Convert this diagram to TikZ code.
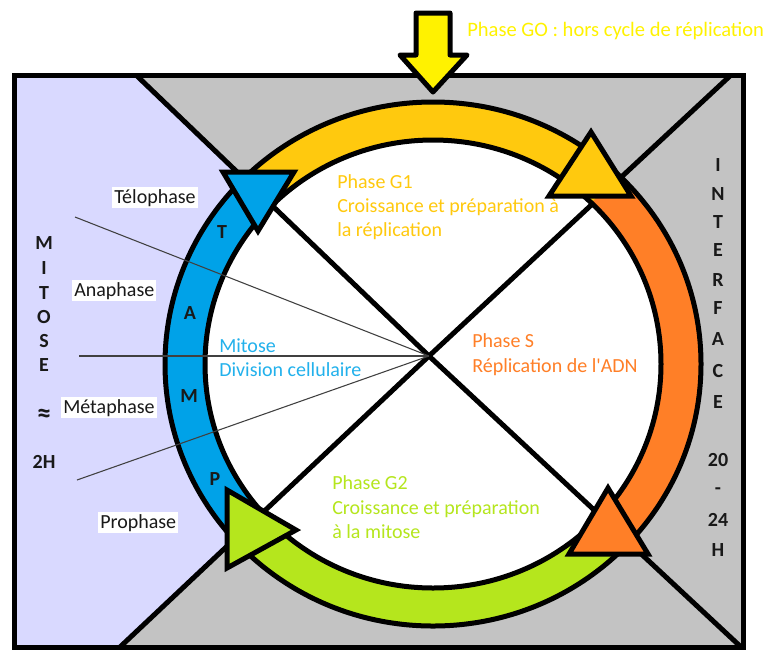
\documentclass[tikz,border=0pt]{standalone}
\usepackage{fontspec}
\setmainfont{Carlito}[Ligatures=TeXOff]
\definecolor{cgray}{HTML}{C3C3C3}
\definecolor{clav}{HTML}{D9D9FF}
\definecolor{cblu}{HTML}{00A2E8}
\definecolor{cyel}{HTML}{FFC90E}
\definecolor{corg}{HTML}{FF7F27}
\definecolor{cgrn}{HTML}{B5E61D}
\definecolor{carrow}{HTML}{FFF200}
\definecolor{cmit}{HTML}{22B1EC}
\definecolor{cthin}{HTML}{404040}
\begin{document}
\begin{tikzpicture}[x=0.75pt,y=0.75pt,
  thickline/.style={line width=3.75pt, line join=round},
  tri/.style={draw=black, line width=3.75pt, line join=miter, miter limit=3},
  thinline/.style={draw=cthin, line width=0.8pt},
  txt/.style={anchor=base west, inner sep=0pt, font=\fontsize{15}{18}\selectfont},
  lbl/.style={anchor=base west, fill=white, inner sep=1.5pt, text=black!90, font=\fontsize{15}{18}\selectfont},
  bl/.style={anchor=base, inner sep=0pt, text=black!90, font=\fontsize{15}{18}\selectfont\bfseries}]
\useasboundingbox (0,0) rectangle (767,-651);
% corners and key points
\coordinate (R1) at (14,-75);
\coordinate (R2) at (743,-647);
\coordinate (RBL) at (14,-647);
\coordinate (TL) at (136,-75);
\coordinate (TR) at (731,-75);
\coordinate (BL) at (120,-647);
\coordinate (BR) at (741,-647);
\coordinate (X) at (429,-356);
\coordinate (C) at (433,-364);
% backgrounds
\fill[cgray] (R1) rectangle (R2);
\fill[clav] (R1) -- (TL) -- (X) -- (BL) -- (RBL) -- cycle;
\fill[white] (C) ellipse [x radius=268, y radius=262];
% X lines
\draw[thickline] (TL) -- (X) -- (BR);
\draw[thickline] (TR) -- (X) -- (BL);
% ring segments
\begin{scope}[shift={(433,-364)}]
\foreach \a/\b/\c in {134/46/cyel, 46/-45/corg, -45/-138/cgrn, 222/134/cblu}{
  \fill[\c] (\a:268 and 262) arc[start angle=\a, end angle=\b, x radius=268, y radius=262]
    -- (\b:228 and 224) arc[start angle=\b, end angle=\a, x radius=228, y radius=224] -- cycle;
}
\end{scope}
\draw[thickline] (C) ellipse [x radius=268, y radius=262];
\draw[thickline] (C) ellipse [x radius=228, y radius=224];
% thin mitosis lines
\coordinate (L1) at (75,-217);
\coordinate (L2) at (79,-356);
\coordinate (L3) at (77,-480);
\draw[thinline] (L1) -- (X);
\draw[thinline] (L2) -- (X);
\draw[thinline] (L3) -- (X);
% ring letters
\node[bl] (lT) at (222,-238) {T};
\node[bl] (lA) at (190,-319) {A};
\node[bl] (lM) at (189,-402) {M};
\node[bl] (lP) at (215,-485) {P};
% left labels
\node[lbl] (telo) at (112,-203) {Télophase};
\node[lbl] (ana) at (72,-296) {Anaphase};
\node[lbl] (meta) at (61,-413) {Métaphase};
\node[lbl] (pro) at (98,-528) {Prophase};
% MITOSE
\node[bl] (m1) at (44,-249) {M};
\node[bl] (m2) at (44,-274) {I};
\node[bl] (m3) at (44,-299) {T};
\node[bl] (m4) at (44,-323) {O};
\node[bl] (m5) at (44,-347) {S};
\node[bl] (m6) at (44,-371) {E};
\node[bl, font=\fontsize{21}{22}\selectfont\bfseries] (m7) at (44,-422) {≈};
\node[bl] (m8) at (44,-468) {2H};
% INTERFACE
\node[bl] (i1) at (718,-171) {I};
\node[bl] (i2) at (718,-200) {N};
\node[bl] (i3) at (718,-228) {T};
\node[bl] (i4) at (718,-256) {E};
\node[bl] (i5) at (718,-286) {R};
\node[bl] (i6) at (718,-314) {F};
\node[bl] (i7) at (718,-345) {A};
\node[bl] (i8) at (718,-377) {C};
\node[bl] (i9) at (718,-408) {E};
\node[bl] (i10) at (718,-466) {20};
\node[bl] (i11) at (718,-494) {-};
\node[bl] (i12) at (718,-526) {24};
\node[bl] (i13) at (718,-556) {H};
% phase texts
\node[txt, text=cyel] (g1a) at (337,-188) {Phase G1};
\node[txt, text=cyel] (g1b) at (337,-212) {Croissance et préparation à};
\node[txt, text=cyel] (g1c) at (337,-236) {la réplication};
\node[txt, text=corg] (sa) at (472,-347) {Phase S};
\node[txt, text=corg] (sb) at (472,-372) {Réplication de l'ADN};
\node[txt, text=cgrn] (g2a) at (332,-489) {Phase G2};
\node[txt, text=cgrn] (g2b) at (332,-514) {Croissance et préparation};
\node[txt, text=cgrn] (g2c) at (332,-538) {à la mitose};
\node[txt, text=cmit] (mia) at (219,-352) {Mitose};
\node[txt, text=cmit] (mib) at (219,-376) {Division cellulaire};
% triangles
\draw[tri, fill=cblu] (223,-172) -- (294,-172) -- (258,-231) -- cycle;
\draw[tri, fill=cyel] (591,-132) -- (631,-196) -- (549,-196) -- cycle;
\draw[tri, fill=corg] (608,-488) -- (648,-554) -- (569,-554) -- cycle;
\draw[tri, fill=cgrn] (227,-490) -- (296,-530) -- (227,-568) -- cycle;
% frame
\draw[line width=3.75pt] (R1) rectangle (R2);
% G0 arrow
\draw[tri, fill=carrow, line join=round] (416,-13) -- (450,-13) -- (450,-55) -- (467,-55) -- (433,-92)
  -- (400,-55) -- (416,-55) -- cycle;
\node[txt, text=carrow, font=\fontsize{15.4}{18}\selectfont] (g0) at (467,-36) {Phase GO : hors cycle de réplication};
\end{tikzpicture}
\end{document}
